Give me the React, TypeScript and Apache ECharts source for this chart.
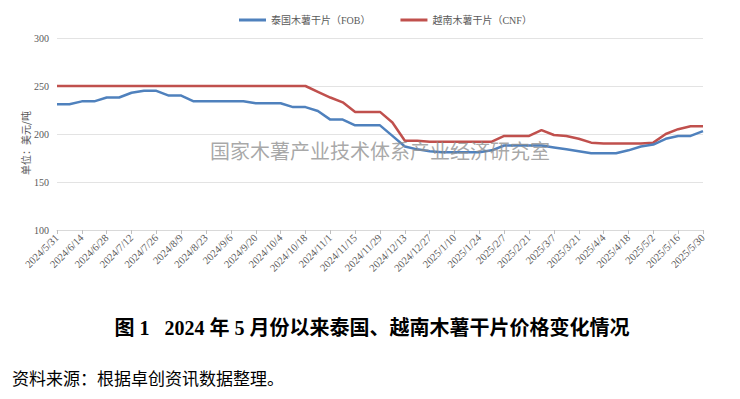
import React, { useEffect, useRef } from "react";
import * as echarts from "echarts";

const dates = [
  "2024/5/31", "2024/6/7", "2024/6/14", "2024/6/21", "2024/6/28", "2024/7/5", "2024/7/12", "2024/7/19",
  "2024/7/26", "2024/8/2", "2024/8/9", "2024/8/16", "2024/8/23", "2024/8/30", "2024/9/6", "2024/9/13",
  "2024/9/20", "2024/9/27", "2024/10/4", "2024/10/11", "2024/10/18", "2024/10/25", "2024/11/1", "2024/11/8",
  "2024/11/15", "2024/11/22", "2024/11/29", "2024/12/6", "2024/12/13", "2024/12/20", "2024/12/27",
  "2025/1/3", "2025/1/10", "2025/1/17", "2025/1/24", "2025/1/31", "2025/2/7", "2025/2/14", "2025/2/21",
  "2025/2/28", "2025/3/7", "2025/3/14", "2025/3/21", "2025/3/28", "2025/4/4", "2025/4/11", "2025/4/18",
  "2025/4/25", "2025/5/2", "2025/5/9", "2025/5/16", "2025/5/23", "2025/5/30",
];

const thaiFOB = [
  231, 231, 234, 234, 238, 238, 243, 245, 245, 240, 240, 234, 234, 234, 234, 234,
  232, 232, 232, 228, 228, 224, 215, 215, 209, 209, 209, 198, 187, 184, 182,
  181, 181, 181, 181, 183, 188, 188, 188, 188, 186, 184, 182, 180, 180, 180, 183,
  187, 189, 195, 198, 198, 203,
];

const vietCNF = [
  250, 250, 250, 250, 250, 250, 250, 250, 250, 250, 250, 250, 250, 250, 250, 250,
  250, 250, 250, 250, 250, 244, 238, 233, 223, 223, 223, 212, 193, 193, 192,
  192, 192, 192, 192, 192, 198, 198, 198, 204, 199, 198, 195, 191, 190, 190, 190,
  190, 191, 200, 205, 208, 208,
];

const seriesNames = ["泰国木薯干片（FOB）", "越南木薯干片（CNF）"];
const yTicks = { min: 100, max: 300, interval: 50 };
const yUnit = "单位：美元/吨";
const watermark = "国家木薯产业技术体系产业经济研究室";
const figTitle = "图 1   2024 年 5 月份以来泰国、越南木薯干片价格变化情况";
const sourceNote = "资料来源：根据卓创资讯数据整理。";

const SERIF = '"Liberation Serif", "Times New Roman", "Noto Sans CJK SC", serif';
const CJK = '"Noto Sans CJK SC", "Liberation Serif", serif';

export default function App() {
  const ref = useRef<HTMLDivElement>(null);

  useEffect(() => {
    if (!ref.current) return;
    const chart = echarts.init(ref.current, undefined, { renderer: "svg" });
    chart.setOption({
      animation: false,
      backgroundColor: "#ffffff",
      legend: {
        top: 10,
        left: 234,
        itemWidth: 27,
        itemHeight: 3,
        itemGap: 30,
        icon: "rect",
        textStyle: { fontSize: 10, color: "#595959", fontFamily: SERIF },
        data: seriesNames,
      },
      grid: { left: 57, right: 37, top: 38, bottom: 169, containLabel: false },
      xAxis: {
        type: "category",
        boundaryGap: false,
        data: dates,
        axisLine: { lineStyle: { color: "#d9d9d9" } },
        axisTick: { show: true, interval: 1, length: 4, lineStyle: { color: "#bfbfbf" } },
        axisLabel: {
          interval: 1,
          rotate: 45,
          fontSize: 10.5,
          color: "#595959",
          fontFamily: SERIF,
          margin: 6,
        },
      },
      yAxis: {
        type: "value",
        min: yTicks.min,
        max: yTicks.max,
        interval: yTicks.interval,
        axisLine: { show: false },
        axisTick: { show: false },
        splitLine: { lineStyle: { color: "#e3e3e3", width: 1 } },
        axisLabel: { fontSize: 10, color: "#595959", fontFamily: SERIF, margin: 8 },
      },
      series: [
        {
          name: seriesNames[0],
          type: "line",
          data: thaiFOB,
          symbol: "none",
          lineStyle: { color: "#4f81bd", width: 2.5 },
          itemStyle: { color: "#4f81bd" },
          z: 3,
        },
        {
          name: seriesNames[1],
          type: "line",
          data: vietCNF,
          symbol: "none",
          lineStyle: { color: "#c0504d", width: 2.5 },
          itemStyle: { color: "#c0504d" },
          z: 2,
        },
      ],
      graphic: [
        {
          type: "text",
          x: 25,
          y: 143,
          rotation: Math.PI / 2,
          style: {
            text: yUnit,
            fontSize: 10,
            fill: "#595959",
            fontFamily: CJK,
            align: "center",
            verticalAlign: "middle",
          },
        },
        {
          type: "text",
          x: 380,
          y: 150,
          z: 10,
          style: {
            text: watermark,
            fontSize: 20,
            fill: "rgba(140,140,140,0.75)",
            fontFamily: CJK,
            align: "center",
            verticalAlign: "middle",
          },
        },
        {
          type: "text",
          x: 372,
          y: 328,
          style: {
            text: figTitle,
            fontSize: 20,
            fontWeight: "bold",
            fill: "#000000",
            fontFamily: SERIF,
            align: "center",
            verticalAlign: "middle",
          },
        },
        {
          type: "text",
          x: 12,
          y: 377,
          style: {
            text: sourceNote,
            fontSize: 17,
            fill: "#000000",
            fontFamily: CJK,
            align: "left",
            verticalAlign: "middle",
          },
        },
      ],
    });
    return () => chart.dispose();
  }, []);

  return (
    <div
      ref={ref}
      style={{ position: "fixed", left: 0, top: 0, width: 740, height: 399, background: "#fff" }}
    />
  );
}
